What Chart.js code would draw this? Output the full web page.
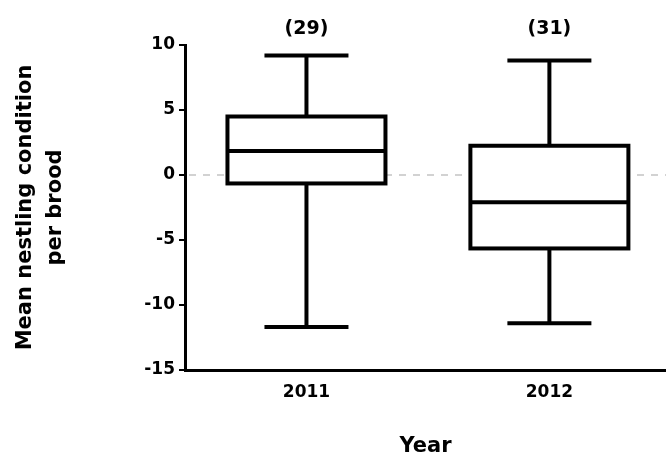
<!DOCTYPE html>
<html>
<head>
<meta charset="utf-8">
<script src="https://cdn.jsdelivr.net/npm/chart.js@4"></script>
<style>
  body { margin: 0; background: #fff; }
  #wrap { width: 666px; height: 463px; }
</style>
</head>
<body>
<div id="wrap"><canvas id="boxChart"></canvas></div>
<script>
// values
var years = ['2011', '2012'];
var counts = ['(29)', '(31)'];
var mins = [-11.7, -11.4];
var q1 = [-0.65, -5.65];
var medians = [1.85, -2.1];
var q3 = [4.5, 2.25];
var maxs = [9.2, 8.8];
var yTicks = [-15, -10, -5, 0, 5, 10];

var FONT = "'DejaVu Sans', sans-serif";
Chart.defaults.color = '#000';
Chart.defaults.font.family = FONT;

// box outline, whiskers, medians, zero line and n labels
var boxExtras = {
    id: 'boxExtras',
    beforeDatasetsDraw: function (chart) {
        var ctx = chart.ctx, y = chart.scales.y, area = chart.chartArea;
        var y0 = y.getPixelForValue(0);
        ctx.save();
        ctx.strokeStyle = '#d2d2d2';
        ctx.lineWidth = 2;
        ctx.setLineDash([7, 7]);
        ctx.beginPath();
        ctx.moveTo(area.left + 4, y0);
        ctx.lineTo(area.right, y0);
        ctx.stroke();
        ctx.restore();
    },
    afterDatasetsDraw: function (chart) {
        var ctx = chart.ctx, y = chart.scales.y;
        var meta = chart.getDatasetMeta(0);
        ctx.save();
        ctx.strokeStyle = '#000';
        ctx.lineWidth = 4;
        ctx.lineJoin = 'miter';
        meta.data.forEach(function (bar, i) {
            var x = bar.x, hw = bar.width / 2, cap = 42;
            var yq1 = y.getPixelForValue(q1[i]), yq3 = y.getPixelForValue(q3[i]);
            ctx.strokeRect(x - hw, yq3, hw * 2, yq1 - yq3);
            ctx.beginPath();
            // median
            ctx.moveTo(x - hw, y.getPixelForValue(medians[i]));
            ctx.lineTo(x + hw, y.getPixelForValue(medians[i]));
            // upper whisker
            ctx.moveTo(x, yq3);
            ctx.lineTo(x, y.getPixelForValue(maxs[i]));
            ctx.moveTo(x - cap, y.getPixelForValue(maxs[i]));
            ctx.lineTo(x + cap, y.getPixelForValue(maxs[i]));
            // lower whisker
            ctx.moveTo(x, yq1);
            ctx.lineTo(x, y.getPixelForValue(mins[i]));
            ctx.moveTo(x - cap, y.getPixelForValue(mins[i]));
            ctx.lineTo(x + cap, y.getPixelForValue(mins[i]));
            ctx.stroke();
        });
        ctx.restore();
    },
    afterDraw: function (chart) {
        var ctx = chart.ctx;
        var meta = chart.getDatasetMeta(0);
        ctx.save();
        ctx.fillStyle = '#000';
        ctx.font = 'bold 19px ' + FONT;
        ctx.textAlign = 'center';
        ctx.textBaseline = 'middle';
        meta.data.forEach(function (bar, i) {
            ctx.fillText(counts[i], bar.x, 29);
        });
        ctx.restore();
    }
};

var ctx = document.getElementById('boxChart').getContext('2d');
var myChart = new Chart(ctx, {
    type: 'bar',
    data: {
        datasets: [{
            data: years.map(function (yr, i) { return { x: i + 1, y: [q1[i], q3[i]] }; }),
            backgroundColor: '#fff',
            borderWidth: 0,
            barThickness: 158
        }]
    },
    options: {
        responsive: true,
        maintainAspectRatio: false,
        animation: false,
        layout: { padding: { top: 45, left: 0, right: 0, bottom: 0 } },
        scales: {
            x: {
                type: 'linear',
                offset: false,
                min: 0.5,
                max: 2.48,
                afterBuildTicks: function (scale) {
                    scale.ticks = years.map(function (yr, i) { return { value: i + 1 }; });
                },
                afterFit: function (scale) { scale.height = 93; },
                ticks: {
                    padding: 4,
                    font: { size: 17, weight: 'bold' },
                    callback: function (v) { return years[v - 1]; }
                },
                grid: { display: false },
                border: { color: '#000', width: 3 },
                title: {
                    display: true,
                    text: 'Year',
                    font: { size: 21, weight: 'bold', lineHeight: 1.2 },
                    padding: { top: 0, bottom: 4 }
                }
            },
            y: {
                min: -15,
                max: 10,
                afterBuildTicks: function (scale) {
                    scale.ticks = yTicks.map(function (v) { return { value: v }; });
                },
                afterFit: function (scale) { scale.width = 185; },
                ticks: {
                    padding: 4,
                    font: { size: 17, weight: 'bold' }
                },
                grid: { drawOnChartArea: false, color: '#000', lineWidth: 2, tickLength: 6 },
                border: { color: '#000', width: 3 },
                title: {
                    display: true,
                    text: ['Mean nestling condition', 'per brood'],
                    font: { size: 21, weight: 'bold', lineHeight: 1.45 },
                    padding: { top: 10, bottom: 0 }
                }
            }
        },
        plugins: {
            legend: { display: false },
            tooltip: { enabled: false }
        }
    },
    plugins: [boxExtras]
});
</script>
</body>
</html>
